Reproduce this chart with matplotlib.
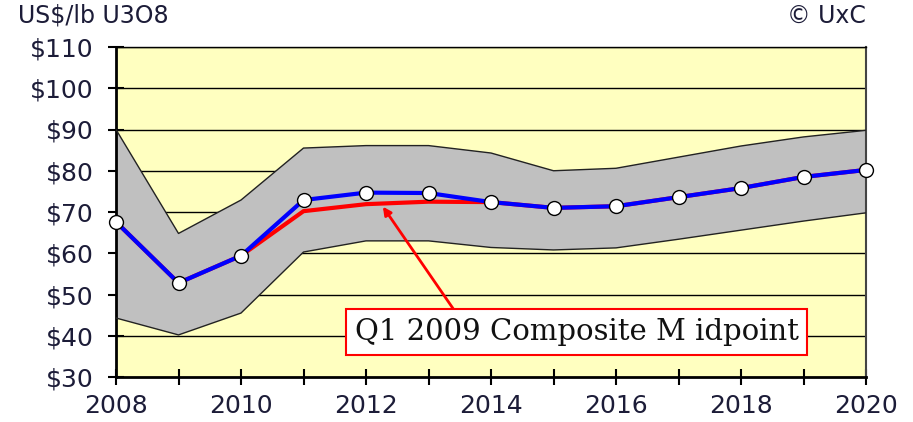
import numpy as np
import matplotlib.pyplot as plt
from matplotlib.ticker import FuncFormatter, MultipleLocator

# Data (US$/lb U3O8)
years = list(range(2008, 2021))
midpoint = [67.6, 52.8, 59.4, 72.9, 74.7, 74.6, 72.4, 71.0, 71.4, 73.6, 75.8, 78.5, 80.2]
q1_2009 = [67.6, 52.8, 59.4, 70.2, 71.9, 72.5, 72.4, 71.0, 71.4, 73.6, 75.8, 78.5, 80.2]
band_high = [90.0, 64.8, 72.9, 85.5, 86.1, 86.1, 84.3, 80.0, 80.6, 83.3, 86.0, 88.2, 89.8]
band_low = [44.3, 40.2, 45.5, 60.3, 63.0, 63.0, 61.4, 60.8, 61.3, 63.4, 65.6, 67.8, 69.8]

fig = plt.figure(figsize=(9.13, 4.22), dpi=100)
ax = fig.add_axes([116 / 913, 1 - 377 / 422, 750 / 913, 330 / 422])
ax.set_facecolor('#ffffc0')

# horizontal grid
for v in range(40, 111, 10):
    ax.axhline(v, color='black', lw=1.0, zorder=1)

# gray range band
ax.fill_between(years, band_low, band_high, facecolor='#c0c0c0',
                edgecolor='none', zorder=2)
ax.plot(years, band_high, color='#222222', lw=1.0, zorder=3)
ax.plot(years, band_low, color='#222222', lw=1.0, zorder=3)

# lines
ax.plot(years, q1_2009, color='#ff0000', lw=3, zorder=4, solid_joinstyle='miter')
ax.plot(years, midpoint, color='#0000ff', lw=3, zorder=5,
        marker='o', markersize=10, markerfacecolor='white',
        markeredgecolor='black', markeredgewidth=1.0, clip_on=False)

ax.set_xlim(2008, 2020)
ax.set_ylim(30, 110)
ax.yaxis.set_major_locator(MultipleLocator(10))
ax.xaxis.set_major_locator(MultipleLocator(2))
ax.xaxis.set_minor_locator(MultipleLocator(1))
ax.yaxis.set_major_formatter(FuncFormatter(lambda v, p: '${:d}'.format(int(v))))

txt_color = '#1c1c38'
for lab in ax.get_xticklabels() + ax.get_yticklabels():
    lab.set_fontfamily('DejaVu Sans')
    lab.set_fontsize(18)
    lab.set_color(txt_color)
ax.tick_params(axis='y', direction='inout', length=12, width=1.5, pad=10)
ax.tick_params(axis='x', which='both', direction='inout', length=12, width=1.5, pad=6)

for s in ['left', 'bottom']:
    ax.spines[s].set_linewidth(2)
    ax.spines[s].set_color('black')
ax.spines['top'].set_linewidth(1)
ax.spines['right'].set_linewidth(1.5)
ax.spines['right'].set_color('#444444')

fig.text(18 / 913, 1 - 16 / 422, 'US$/lb U3O8', ha='left', va='center',
         family='DejaVu Sans', fontsize=17, color=txt_color)
fig.text(866 / 913, 1 - 16 / 422, '\u00a9 UxC', ha='right', va='center',
         family='DejaVu Sans', fontsize=17, color=txt_color)

# annotation: arrow and boxed label
ax.annotate('', xy=(2012.27, 71.3), xytext=(2013.42, 46.0), zorder=6,
            arrowprops=dict(arrowstyle='-|>', color='#ff0000', lw=2, mutation_scale=12,
                            shrinkA=0, shrinkB=0))
ax.text(2015.37, 40.9, 'Q1 2009 Composite M idpoint', ha='center', va='center',
        fontsize=21, family='DejaVu Serif', color='#111111', zorder=7,
        bbox=dict(boxstyle='square,pad=0.3', facecolor='white', edgecolor='#ff0000', lw=1.5))

fig.savefig('out.png', dpi=100)
